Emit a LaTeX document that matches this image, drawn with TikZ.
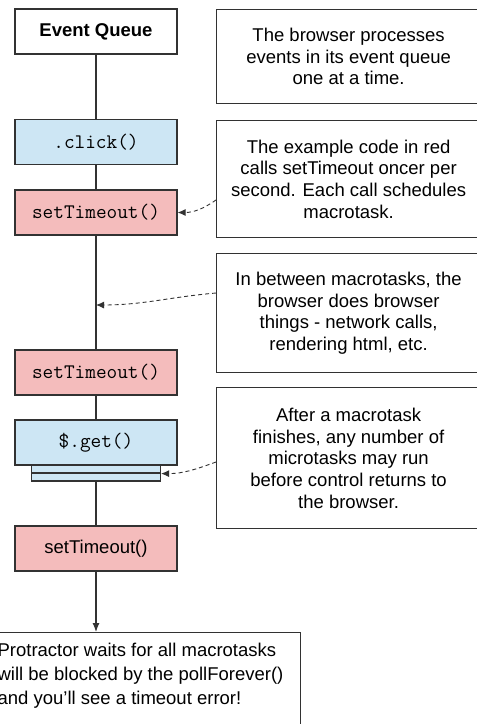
\documentclass[tikz,border=0pt]{standalone}
\usepackage{fontspec}
\setmainfont{Liberation Sans}
\usetikzlibrary{arrows.meta}

\definecolor{callblue}{RGB}{205,230,244}
\definecolor{callred}{RGB}{244,188,188}
\definecolor{edgegray}{RGB}{50,50,50}

\begin{document}
\begin{tikzpicture}[x=1pt, y=-1pt, line width=1.2pt, draw=edgegray,
    every node/.style={font=\fontsize{18.5}{21.7}\selectfont},
    queue/.style={draw=edgegray, minimum width=162pt, minimum height=45pt, inner sep=0pt},
    macro/.style={queue, fill=callred, font=\fontsize{20.7}{22}\ttfamily},
    micro/.style={queue, fill=callblue, font=\fontsize{20.7}{22}\ttfamily},
    note/.style={draw=edgegray, minimum width=264pt, anchor=north west, align=center, inner sep=0pt},
    hint/.style={draw=edgegray, line width=0.9pt, dash pattern=on 4pt off 3pt, -{Latex[length=8pt,width=7pt]}}]

        \useasboundingbox (0,0) rectangle (477,724);
        \clip (0,0) rectangle (477,724);

        % the queue
        \node[queue, font=\fontsize{18.5}{21.7}\bfseries] (eq) at (96,31.5) {Event Queue};
        \node[micro] (click) at (96,142) {.click()};
        \node[macro] (t1) at (96,212.5) {setTimeout()};
        \node[macro] (t2) at (96,372.5) {setTimeout()};
        \node[micro] (get) at (96,442.5) {\$.get()};
        \node[micro, minimum width=129pt, minimum height=8pt] (ma) at (96,469) {};
        \node[micro, minimum width=129pt, minimum height=8pt] (mb) at (96,477) {};
        \node[macro, font=\fontsize{18.5}{21.7}\selectfont] (t3) at (96,548.5) {setTimeout()};

        \node[draw=edgegray, minimum width=306pt, minimum height=140pt, anchor=north west, inner sep=0pt] (waitbox) at (-6,632) {};
        \node[anchor=north west, align=left, inner sep=0pt, font=\fontsize{18.5}{24}\selectfont] (waittext) at (-3,642)
            {Protractor waits for all macrotasks\\will be blocked by the pollForever()\\and you’ll see a timeout error!};

        % the notes
        \node[note, minimum height=94pt] (n1) at (216,9)
            {The browser processes\\events in its event queue\\one at a time.};
        \node[note, minimum height=117pt] (n2) at (216,120)
            {The example code in red\\calls setTimeout oncer per\\second. Each call schedules\\macrotask.};
        \node[note, minimum height=119pt] (n3) at (216,253)
            {In between macrotasks, the\\browser does browser\\things - network calls,\\rendering html, etc.};
        \node[note, minimum height=141pt] (n4) at (216,387)
            {After a macrotask\\finishes, any number of\\microtasks may run\\before control returns to\\the browser.};

        \coordinate (h1) at (216,200);
        \coordinate (h2) at (216,293);
        \coordinate (h3) at (216,462);
        \coordinate (gap) at (96,305);

        \draw (eq) -- (click);
        \draw (click) -- (t1);
        \draw (t1) -- (t2);
        \draw (t2) -- (get);
        \draw (mb) -- (t3);
        \draw[-{Latex[length=9pt,width=7pt]}] (t3) -- (t3 |- waitbox.north);

        \draw[hint] (h1) to[out=215, in=0] (t1.east);
        \draw[hint] (h2) to[out=185, in=0] (gap);
        \draw[hint] (h3) to[out=200, in=0] (ma.south east);

\end{tikzpicture}
\end{document}
